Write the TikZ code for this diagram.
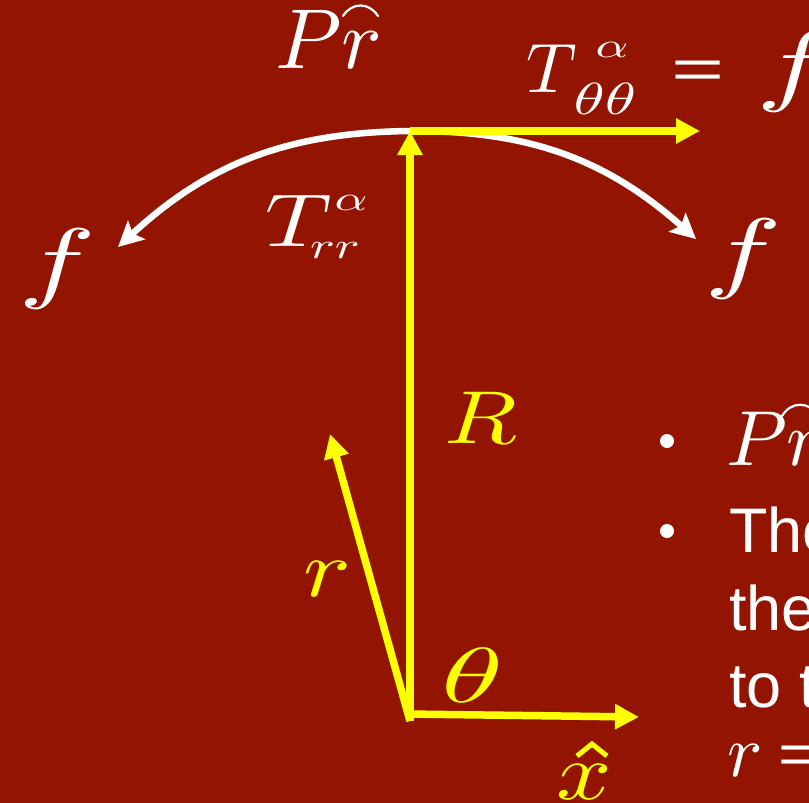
\documentclass[tikz,border=0pt]{standalone}
\usepackage{fontspec}
\setmainfont{Liberation Serif}
\setsansfont{Liberation Sans}
\usetikzlibrary{arrows.meta}
\definecolor{bgred}{RGB}{147,20,0}
\definecolor{yel}{RGB}{255,255,0}
\newcommand\fsz[1]{\fontsize{#1}{#1}\selectfont}
% math at 10pt scaled: #1 = x scale, #2 = y scale
\newcommand\mth[3]{\scalebox{#1}[#2]{$#3$}}
\newcommand\eqsign{\scalebox{1.3}[0.8]{\sffamily\fsz{70}=}}
\tikzset{
  yarrow/.style={draw=yel, line width=7.5pt, -{Triangle[length=24pt,width=24pt]}},
  warrow/.style={draw=white, line width=6.5pt, -{Stealth[length=25pt,width=25pt,inset=5pt]}},
  lab/.style={inner sep=0pt, outer sep=0pt, anchor=center, font=\fsz{10}},
  wlab/.style={lab, text=white},
  ylab/.style={lab, text=yel},
  sanst/.style={inner sep=0pt, anchor=base west, text=white, font=\sffamily\fsz{63}},
  hatline/.style={line width=2.2pt, line cap=round},
}
\begin{document}
\begin{tikzpicture}[x=1pt,y=1pt]
\fill[bgred] (0,0) rectangle (809,-803);
\useasboundingbox (0,0) rectangle (809,-803);
\clip (0,0) rectangle (809,-803);

% key points
\coordinate (O) at (410,-721);
\coordinate (Ox) at (407,-714);
\coordinate (top) at (410,-131);
\coordinate (lt) at (118,-247);
\coordinate (rt) at (696,-239);
\coordinate (te) at (700,-131);
\coordinate (xe) at (639,-717);
\coordinate (re) at (330,-434);

% white curved arrows
\draw[warrow] (top) to[bend right=21] (lt);
\draw[warrow] (top) to[bend left=21] (rt);

% yellow arrows
\draw[yarrow] (O) -- (top);
\draw[yarrow] (top) -- (te);
\draw[yarrow] (Ox) -- (xe);
\draw[yarrow] (O) -- (re);

% top labels
\node[wlab] (prtop) at (329,-39) {\mth{8.5}{8.5}{Pr}};
\draw[white, hatline] (343,-16) .. controls (352,-2) and (369,-2) .. (378,-16);

\node[wlab] (T1) at (552,-69) {\mth{7}{7}{T}};
\node[wlab] (a1) at (612,-50) {\mth{5.1}{3.5}{\alpha}};
\node[wlab] (tt1) at (605,-99) {\mth{6.3}{4.5}{\theta\theta}};
\node[wlab] (eq1) at (698.5,-75) {\eqsign};
\node[wlab] (f1) at (795,-72) {\mth{13}{9}{f}};

\node[wlab] (T2) at (299,-220.5) {\mth{9.2}{7.5}{T}};
\node[wlab] (a2) at (351,-202.5) {\mth{5.1}{3.5}{\alpha}};
\node[wlab] (rr2) at (335,-251) {\mth{5.2}{3.7}{rr}};

\node[wlab] (fl) at (57.5,-269) {\mth{13}{9}{f}};
\node[wlab] (fr) at (743.5,-259) {\mth{13}{9}{f}};

% yellow labels
\node[ylab] (R) at (481,-417.5) {\mth{9.5}{7.5}{R}};
\node[ylab] (rlab) at (327.5,-579.5) {\mth{10}{8.1}{r}};
\node[ylab] (th) at (473,-675.5) {\mth{12.5}{7.8}{\theta}};
\node[ylab] (xh) at (584.5,-782.5) {\mth{9.7}{8.1}{x}};
\draw[yel, line width=5pt] (577,-756) -- (592,-744) -- (607,-756);

% right text
\node[circle, fill=white, inner sep=0pt, minimum size=14pt] (b1) at (667,-441) {};
\node[circle, fill=white, inner sep=0pt, minimum size=14pt] (b2) at (667,-531) {};
\node[wlab, anchor=base west] (pr2) at (726,-465) {\mth{7.8}{7.8}{Pr}};
\draw[white, hatline] (782,-416) .. controls (791,-401) and (809,-401) .. (819,-416);
\node[sanst] (l1) at (729,-552) {The};
\node[sanst] (l2) at (729,-630) {the};
\node[sanst] (l3) at (729,-707) {to t};
\node[wlab, anchor=base west] (l4) at (727,-776) {\mth{7.4}{7.4}{r}};
\node[wlab] (l4eq) at (804,-760) {\eqsign};
\end{tikzpicture}
\end{document}
